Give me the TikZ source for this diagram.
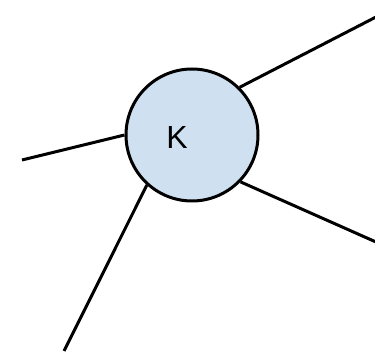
\documentclass[tikz,border=0pt]{standalone}
\usepackage{fontspec}
\setmainfont{Liberation Sans}
\begin{document}
\begin{tikzpicture}[x=1pt,y=-1pt,
  hub/.style={circle,draw=black,line width=3pt,fill={rgb,255:red,207;green,224;blue,241},minimum size=132pt,inner sep=0pt},
  spoke/.style={draw=black,line width=3pt}]
\useasboundingbox (0,0) rectangle (375,355);
\node[hub] (K) at (192,135) {};
\node[font=\fontsize{32}{32}\selectfont] (lab) at (177,137) {K};
\coordinate (tr) at (376,17);
\coordinate (l) at (22,160);
\coordinate (br) at (376,242);
\coordinate (bl) at (64,351);
\draw[spoke] (K.45) -- (tr);
\draw[spoke] (K.180) -- (l);
\draw[spoke] (K.-44) -- (br);
\draw[spoke] (K.228) -- (bl);
\end{tikzpicture}
\end{document}
